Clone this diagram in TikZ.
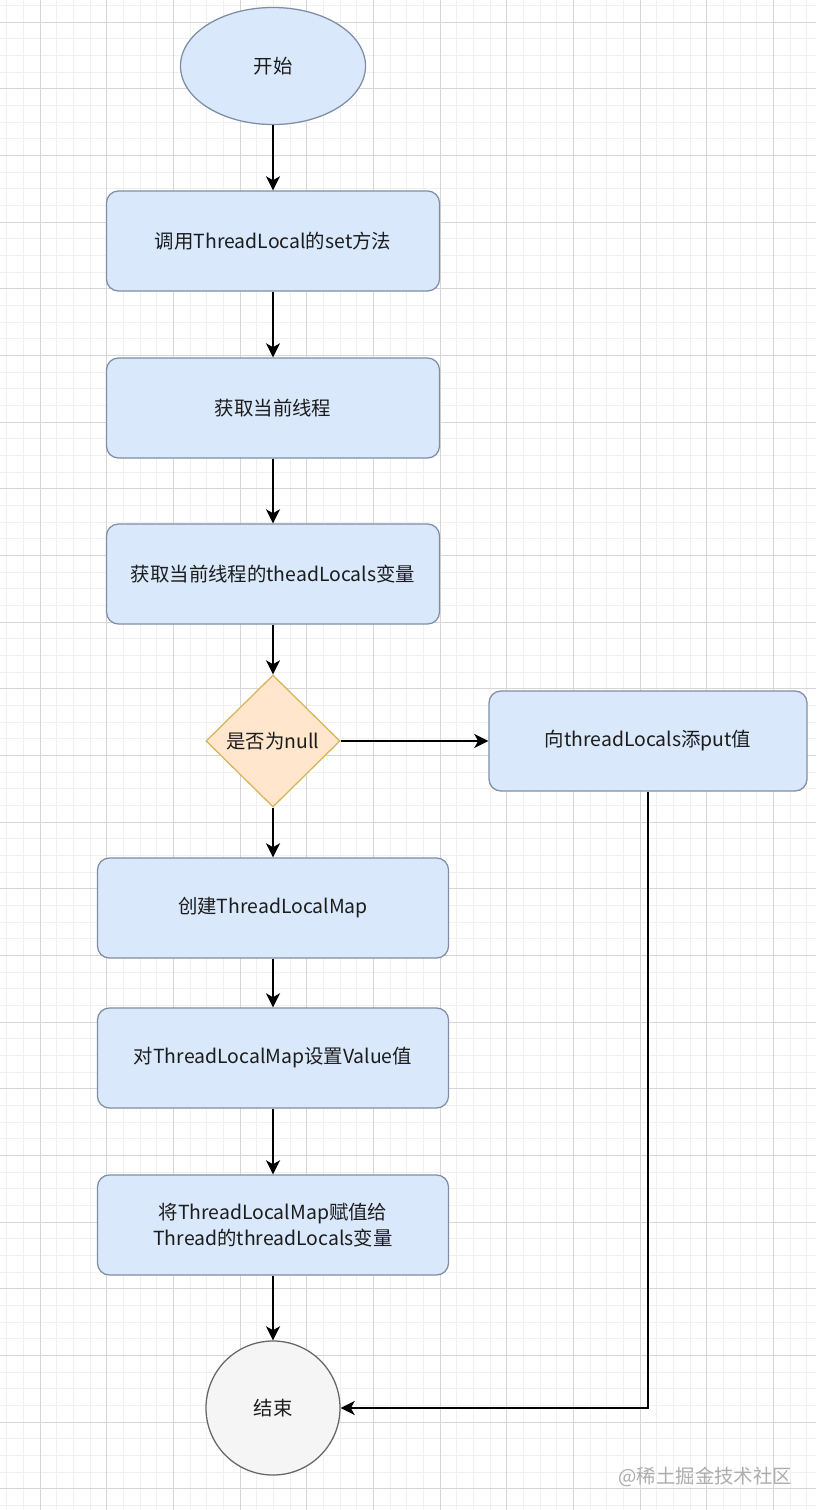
\documentclass[tikz,border=0pt]{standalone}
\usepackage{fontspec}
\setmainfont{Noto Sans CJK SC}
\usetikzlibrary{shapes.geometric,arrows.meta}
\definecolor{boxfill}{HTML}{DAE8FC}
\definecolor{boxline}{HTML}{7F8EA6}
\definecolor{askfill}{HTML}{FFE6CC}
\definecolor{askline}{HTML}{D6B656}
\definecolor{endfill}{HTML}{F5F5F5}
\definecolor{endline}{HTML}{666666}
\definecolor{txt}{HTML}{1C1C1C}
\definecolor{gridminor}{HTML}{F0F0F0}
\definecolor{gridmajor}{HTML}{D6D6D6}
\begin{document}
\begin{tikzpicture}[
    x=0.025cm, y=-0.025cm,
    font=\fontsize{13.8}{18}\selectfont,
    >={Stealth[length=10pt,width=10pt,inset=2.8pt]},
    flow/.style={->, line width=1.5pt, black},
    box/.style={draw=boxline, fill=boxfill, line width=0.9pt, rounded corners=0.3cm,
      minimum height=2.5cm, align=center, text=txt},
    narrowbox/.style={box, minimum width=8.325cm},
    widebox/.style={box, minimum width=8.775cm},
    ask/.style={diamond, draw=askline, fill=askfill, line width=0.9pt, inner sep=0pt,
      minimum width=3.35cm, minimum height=3.3cm, text=txt},
    term/.style={ellipse, draw=boxline, fill=boxfill, line width=0.9pt,
      minimum width=4.625cm, minimum height=2.925cm, text=txt}
  ]
    \useasboundingbox (0,0) rectangle (816,1510);
    \fill[white] (0,0) rectangle (816,1510);
    \foreach \k in {0,...,48}
      \draw[gridminor, line width=0.5pt] ({6.667+16.667*\k},0) -- ({6.667+16.667*\k},1510);
    \foreach \k in {0,...,90}
      \draw[gridminor, line width=0.5pt] (0,{5.333+16.667*\k}) -- (816,{5.333+16.667*\k});
    \foreach \k in {0,...,11}
      \draw[gridmajor, line width=0.6pt] ({40+66.667*\k},0) -- ({40+66.667*\k},1510);
    \foreach \k in {0,...,22}
      \draw[gridmajor, line width=0.6pt] (0,{22+66.667*\k}) -- (816,{22+66.667*\k});

    \node[term] (start) at (273,66) {开始};
    \node[narrowbox] (callset) at (273,241) {调用ThreadLocal的set方法};
    \node[narrowbox] (getthread) at (273,408) {获取当前线程};
    \node[narrowbox] (getlocals) at (273,574) {获取当前线程的theadLocals变量};
    \node[ask] (isnull) at (273,741) {是否为null};
    \node[box, minimum width=7.95cm] (putv) at (648,741) {向threadLocals添put值};
    \node[widebox] (newmap) at (273,908) {创建ThreadLocalMap};
    \node[widebox] (setval) at (273,1058) {对ThreadLocalMap设置Value值};
    \node[widebox] (assign) at (273,1225)
      {将ThreadLocalMap赋值给\\Thread的threadLocals变量};
    \node[circle, draw=endline, fill=endfill, line width=0.9pt, minimum size=3.35cm,
      text=txt] (finish) at (273,1408) {结束};
    \node[anchor=east, text=black!32] (wm) at (797,1477) {@稀土掘金技术社区};

    \draw[flow] (start) -- (callset);
    \draw[flow] (callset) -- (getthread);
    \draw[flow] (getthread) -- (getlocals);
    \draw[flow] (getlocals) -- (isnull);
    \draw[flow] (isnull) -- (putv);
    \draw[flow] (isnull) -- (newmap);
    \draw[flow] (newmap) -- (setval);
    \draw[flow] (setval) -- (assign);
    \draw[flow] (assign) -- (finish);
    \draw[flow] (putv.south) |- (finish.east);
  \end{tikzpicture}
\end{document}
